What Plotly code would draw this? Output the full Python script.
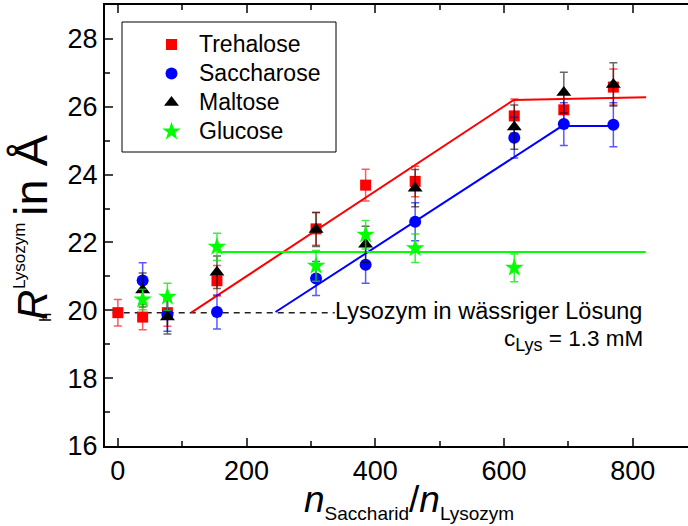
import plotly.graph_objects as go

# ---- data ----
n_ratio = [0, 38.5, 77, 154, 308, 385, 462, 616, 693, 770]

tre_x = [0, 38.5, 77, 154, 308, 385, 462, 616, 693, 770]
tre_y = [19.93, 19.80, 19.93, 20.87, 22.40, 23.69, 23.80, 25.73, 25.91, 26.58]
tre_e = [0.39, 0.37, 0.40, 0.45, 0.48, 0.47, 0.45, 0.50, 0.50, 0.53]

sac_x = [38.5, 77, 154, 308, 385, 462, 616, 693, 770]
sac_y = [20.88, 19.88, 19.95, 20.94, 21.34, 22.61, 25.09, 25.49, 25.47]
sac_e = [0.52, 0.50, 0.50, 0.50, 0.54, 0.56, 0.60, 0.63, 0.65]

mal_x = [38.5, 77, 154, 308, 385, 462, 616, 693, 770]
mal_y = [20.60, 19.80, 21.12, 22.38, 21.95, 23.60, 25.40, 26.42, 26.66]
mal_e = [0.50, 0.50, 0.48, 0.50, 0.53, 0.55, 0.65, 0.60, 0.64]

glu_x = [38.5, 77, 154, 308, 385, 462, 616]
glu_y = [20.32, 20.40, 21.87, 21.31, 22.23, 21.83, 21.25]
glu_e = [0.30, 0.40, 0.40, 0.45, 0.42, 0.42, 0.41]

red_fit_x = [114, 615, 821]
red_fit_y = [19.93, 26.20, 26.28]
blue_fit_x = [245, 690, 770]
blue_fit_y = [19.95, 25.43, 25.43]
green_fit_x = [155, 820]
green_fit_y = [21.72, 21.72]
water_x = [-8, 337]
water_y = [19.93, 19.93]

x_ticks = [0, 200, 400, 600, 800]
y_ticks = [16, 18, 20, 22, 24, 26, 28]

FONT = "Liberation Sans, Arial, sans-serif"

fig = go.Figure()

# fit lines
fig.add_trace(go.Scatter(x=water_x, y=water_y, mode="lines",
                         line=dict(color="#222", width=1.5, dash="6px,5px"), showlegend=False))
fig.add_trace(go.Scatter(x=red_fit_x, y=red_fit_y, mode="lines",
                         line=dict(color="#ff0000", width=2), showlegend=False))
fig.add_trace(go.Scatter(x=blue_fit_x, y=blue_fit_y, mode="lines",
                         line=dict(color="#0000ff", width=2), showlegend=False))
fig.add_trace(go.Scatter(x=green_fit_x, y=green_fit_y, mode="lines",
                         line=dict(color="#00ff00", width=2), showlegend=False))

def series(name, x, y, e, color, ecolor, symbol, size):
    fig.add_trace(go.Scatter(
        x=x, y=y, mode="markers",
        name="<span style='font-size:23px'>%s</span>" % name,
        marker=dict(color=color, symbol=symbol, size=size, line=dict(width=0)),
        error_y=dict(type="data", array=e, visible=True, color=ecolor,
                     thickness=1.5, width=4),
    ))

series("Trehalose", tre_x, tre_y, tre_e, "#ff0000", "rgba(255,0,0,0.65)", "square", 11)
series("Saccharose", sac_x, sac_y, sac_e, "#0000ff", "rgba(0,0,255,0.65)", "circle", 12)
series("Maltose", mal_x, mal_y, mal_e, "#000000", "rgba(0,0,0,0.6)", "triangle-up", 13)
series("Glucose", glu_x, glu_y, glu_e, "#00ff00", "rgba(0,230,0,0.75)", "star", 14)

L, T, W, H = 105, 5, 583, 441

def px2paper(px, py):
    return (px - L) / W, 1 - (py - T) / H

annotations = []
annotations.append(dict(x=818, y=19.97, xref="x", yref="y", xanchor="right", yanchor="middle",
                        text="Lysozym in wässriger Lösung", showarrow=False,
                        font=dict(size=23.5, color="black", family=FONT)))
annotations.append(dict(x=819, y=19.12, xref="x", yref="y", xanchor="right", yanchor="middle",
                        text="c<sub><span style='font-size:18px'>Lys</span></sub> = 1.3 mM", showarrow=False,
                        font=dict(size=22.5, color="black", family=FONT)))

# x-axis title
xp, yp = px2paper(409, 501)
annotations.append(dict(x=xp, y=yp, xref="paper", yref="paper", xanchor="center", yanchor="middle",
                        text="<i>n</i><sub><span style='font-size:19px'>Saccharid</span></sub>/<i>n</i><sub><span style='font-size:19px'>Lysozym</span></sub>",
                        showarrow=False, font=dict(size=37, color="black", family=FONT)))

# y-axis title pieces (rotated)
for txt, px, py, size in [("<i>R</i>", 32, 305, 42), ("Lysozym", 19, 256, 17),
                          ("h", 45, 318, 17), ("in Å", 30, 175, 47)]:
    xp, yp = px2paper(px, py)
    annotations.append(dict(x=xp, y=yp, xref="paper", yref="paper", xanchor="center", yanchor="middle",
                            text=txt, textangle=-90, showarrow=False,
                            font=dict(size=size, color="black", family=FONT)))

bx0, by0 = px2paper(122, 22)
bx1, by1 = px2paper(336, 152)
lx, ly = px2paper(144, 25)

fig.update_layout(
    width=688, height=526,
    margin=dict(l=L, r=0, t=T, b=526 - T - H),
    paper_bgcolor="white", plot_bgcolor="white",
    font=dict(family=FONT, color="black"),
    annotations=annotations,
    shapes=[dict(type="rect", xref="paper", yref="paper", x0=bx0, y0=by0, x1=bx1, y1=by1,
                 line=dict(color="black", width=1), fillcolor="rgba(0,0,0,0)", layer="above")],
    legend=dict(x=lx, y=ly, xanchor="left", yanchor="top",
                borderwidth=0, bgcolor="rgba(0,0,0,0)",
                font=dict(size=20, family=FONT), itemwidth=45, tracegroupgap=0),
    xaxis=dict(range=[-20, -20 + W / 0.6435], tickvals=x_ticks, ticks="inside", ticklen=8, tickwidth=1.5,
               showline=True, linecolor="black", linewidth=2, mirror="ticks", showgrid=False,
               zeroline=False, tickfont=dict(size=27, family=FONT),
               minor=dict(dtick=100, tick0=0, ticks="inside", ticklen=5, tickwidth=1.5, showgrid=False)),
    yaxis=dict(range=[16, 29], tickvals=y_ticks, ticks="inside", ticklen=8, tickwidth=1.5,
               showline=True, linecolor="black", linewidth=2, mirror=False, showgrid=False,
               zeroline=False, tickfont=dict(size=27, family=FONT),
               minor=dict(dtick=1, tick0=0, ticks="inside", ticklen=5, tickwidth=1.5, showgrid=False)),
)

fig.write_html("out.html")
